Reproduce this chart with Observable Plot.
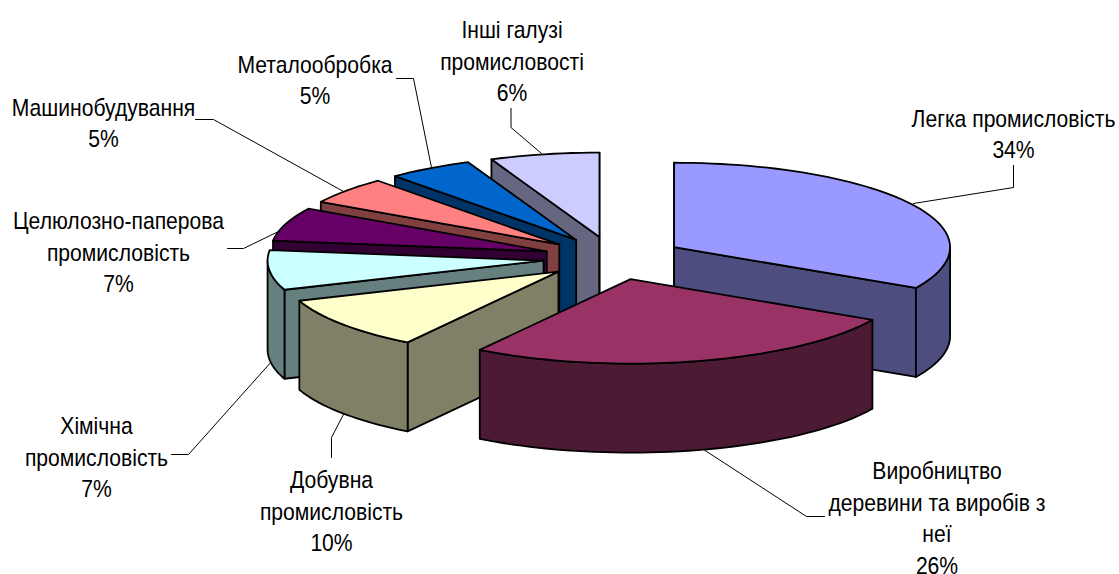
<!DOCTYPE html>
<html><head><meta charset="utf-8">
<style>html,body{margin:0;padding:0;background:#fff}svg{display:block}</style>
<script src="https://cdn.jsdelivr.net/npm/d3@7"></script>
<script src="https://cdn.jsdelivr.net/npm/@observablehq/plot@0.6"></script>
</head><body><div id="chart"></div>
<script>
// Data
const categories = ["Легка промисловість","Виробництво\nдеревини та виробів з\nнеї","Добувна\nпромисловість","Хімічна\nпромисловість","Целюлозно-паперова\nпромисловість","Машинобудування","Металообробка","Інші галузі\nпромисловості"];
const printedPercent = [34,26,10,7,7,5,5,6];
const sliceShares = [33,26.2,10.2,7.6,6.4,5.2,5,6.4]; // as measured from slice angles on the drawn pie
const topColors = ["#9999FF","#993366","#FFFFCC","#CCFFFF","#660066","#FF8080","#0066CC","#CCCCFF"];
const wallColors = ["#4D4D80","#4D1A33","#808066","#668080","#330033","#804040","#003366","#666680"];

// Layout
const W = 1119, H = 574;
const cx = 613, cy = 257.7, rx = 276, ry = 84.5, depth = 89, explode = 0.255;
const drawOrder = [7,6,5,4,3,2,0,1];
const labelAnchors = [[1013,132],[936.5,516],[331,509],[96,455],[118,250],[103,121],[314.5,78],[511.5,59]];
const leaders = [
  [[913,203],[1013,187],[1013,165]],
  [[700,447],[806,516],[824,516]],
  [[344,412],[331,437],[331,457]],
  [[272,360],[188,454],[171,454]],
  [[278,231],[243,248],[227,248]],
  [[343,191],[213,119],[195,119]],
  [[431,167],[413,78],[396,78]],
  [[541,153],[510.5,127],[510.5,108]]
];

const total = d3.sum(sliceShares);
const edges = d3.cumsum(sliceShares).map(v => v / total * 360);
const rad = d => d * Math.PI / 180;
const polys = [];
drawOrder.forEach(i => {
  const a0 = i ? edges[i-1] : 0, a1 = edges[i], mid = (a0 + a1) / 2;
  const ax = cx + explode * rx * Math.sin(rad(mid));
  const ay = cy - explode * ry * Math.cos(rad(mid));
  const rim = a => ({x: ax + rx * Math.sin(rad(a)), y: ay - ry * Math.cos(rad(a))});
  const down = p => ({x: p.x, y: p.y + depth});
  const apex = {x: ax, y: ay};
  const arc = (s, e) => { const n = Math.max(1, Math.ceil((e - s) / 2)); return d3.range(n + 1).map(k => rim(s + (e - s) * k / n)); };
  const wall = a => [apex, rim(a), down(rim(a)), down(apex)];
  if (a0 >= 180 || a0 === 0) polys.push({pts: wall(a0), fill: wallColors[i]});
  if (a1 <= 180 || a1 >= 359.99) polys.push({pts: wall(a1), fill: wallColors[i]});
  const s = Math.max(a0, 90), e = Math.min(a1, 270);
  if (e > s) { const r = arc(s, e); polys.push({pts: [...r, ...r.slice().reverse().map(down)], fill: wallColors[i]}); }
  polys.push({pts: [apex, ...arc(a0, a1)], fill: topColors[i]});
});

const labels = categories.map((c, i) => ({text: `${c}\n${printedPercent[i]}%`, x: labelAnchors[i][0], y: labelAnchors[i][1]}));

const chart = Plot.plot({
  width: W, height: H, margin: 0,
  x: {domain: [0, W], range: [0, W], axis: null},
  y: {domain: [0, H], range: [0, H], axis: null},
  style: {background: "#fff", fontFamily: "'Liberation Sans',Arial,sans-serif"},
  marks: [
    ...leaders.map(l => Plot.line(l, {x: d => d[0], y: d => d[1], stroke: "#000", strokeWidth: 1})),
    ...polys.map(p => Plot.line(p.pts, {x: "x", y: "y", fill: p.fill, stroke: "#000", strokeWidth: 1.8, strokeLinejoin: "round", curve: "linear-closed"})),
    Plot.text(labels, {x: "x", y: "y", text: "text", fontSize: 24, lineHeight: 1.32, fill: "#000", textAnchor: "middle", lineAnchor: "middle", className: "pie-label"})
  ]
});
// The reference's labels are set in a condensed face: narrow them horizontally.
d3.select(chart).selectAll(".pie-label text").attr("transform", function () {
  return `${this.getAttribute("transform")} scale(0.88,1)`;
});
document.getElementById("chart").append(chart);
</script></body></html>
